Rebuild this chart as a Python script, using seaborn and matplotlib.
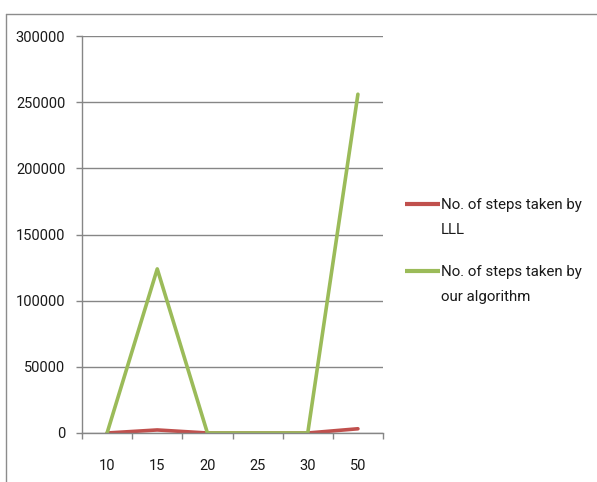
import matplotlib
matplotlib.use("Agg")
import matplotlib.pyplot as plt
from matplotlib.lines import Line2D
from matplotlib.ticker import FixedLocator
import seaborn as sns
import pandas as pd

# Problem sizes (categorical x axis) and step counts
sizes = ["10", "15", "20", "25", "30", "50"]
lll_steps = [0, 2300, 0, 0, 0, 3200]
our_steps = [0, 124000, 0, 0, 0, 256000]
series_names = ["No. of steps taken by\nLLL", "No. of steps taken by\nour algorithm"]
y_ticks = [0, 50000, 100000, 150000, 200000, 250000, 300000]

RED = "#C0504D"
GREEN = "#9BBB59"
GRID = "#868686"
TEXT = "#1A1A1A"
FONT = "Roboto"

sns.set_theme(style="white")
plt.rcParams["font.family"] = [FONT, "DejaVu Sans"]

df = pd.DataFrame({
    "size": sizes * 2,
    "steps": lll_steps + our_steps,
    "series": [series_names[0]] * len(sizes) + [series_names[1]] * len(sizes),
})

W, H = 597, 482
fig = plt.figure(figsize=(W / 100, H / 100), dpi=100)
ax = fig.add_axes([82 / W, 1 - 433 / H, (383 - 82) / W, (433 - 36) / H])

sns.lineplot(data=df, x="size", y="steps", hue="series",
             palette=[RED, GREEN], linewidth=2.6, ax=ax, legend=False,
             sort=False)

ax.set_xlim(-0.5, len(sizes) - 0.5)
ax.set_ylim(0, 300000)
ax.set_yticks(y_ticks)
ax.set_yticklabels([str(v) for v in y_ticks])
ax.set_xlabel("")
ax.set_ylabel("")

# horizontal gridlines
ax.yaxis.grid(True, color=GRID, linewidth=1.0)
ax.xaxis.grid(False)
ax.set_axisbelow(True)

for s in ["top", "right"]:
    ax.spines[s].set_visible(False)
for s in ["left", "bottom"]:
    ax.spines[s].set_color(GRID)
    ax.spines[s].set_linewidth(1.0)

# x: labels centred on categories, tick marks between categories
ax.xaxis.set_minor_locator(FixedLocator([i - 0.5 for i in range(len(sizes) + 1)]))
ax.tick_params(axis="x", which="major", length=0, pad=19, labelsize=10.5, labelcolor=TEXT)
ax.tick_params(axis="x", which="minor", length=4, width=1, color=GRID, direction="out", bottom=True)
ax.tick_params(axis="y", which="major", length=4, width=1, color=GRID, direction="out",
               left=True, pad=8, labelsize=10.5, labelcolor=TEXT)

# legend: line level with the first row of each wrapped label
def px(x, y):
    return x / W, 1 - y / H

legend_rows = [(204, RED), (271, GREEN)]
for (yl, color), name in zip(legend_rows, series_names):
    x0, y0 = px(405, yl)
    x1, _ = px(440, yl)
    fig.add_artist(Line2D([x0, x1], [y0, y0], transform=fig.transFigure,
                          color=color, linewidth=3.0, solid_capstyle="butt"))
    for k, row in enumerate(name.split("\n")):
        tx, ty = px(441, yl + 1 + 25 * k)
        fig.text(tx, ty, row, ha="left", va="center", fontsize=10.8, color=TEXT)

# outer chart frame
fig.add_artist(Line2D([5.5 / W, 1.0], [1 - 13.5 / H, 1 - 13.5 / H],
                      transform=fig.transFigure, color="#8C8C8C", linewidth=1.0))
fig.add_artist(Line2D([5.5 / W, 5.5 / W], [0.0, 1 - 13.5 / H],
                      transform=fig.transFigure, color="#8C8C8C", linewidth=1.0))

fig.savefig("out.png", dpi=100, facecolor="white")
